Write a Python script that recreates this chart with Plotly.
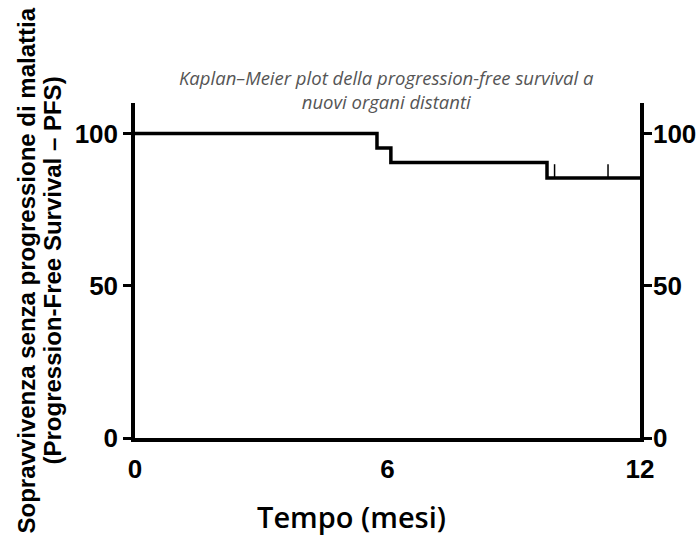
import plotly.graph_objects as go

# Data
step_times = [0, 5.75, 6.08, 9.79, 12]
survival = [100, 95.2, 90.5, 85.4, 85.4]
censor_times = [9.97, 11.24]
censor_level = 85.4
x_ticks = [0, 6, 12]
y_ticks = [0, 50, 100]

title_text = "Kaplan–Meier plot della progression-free survival a<br>nuovi organi distanti"
y_title_1 = "Sopravvivenza senza progressione di malattia"
y_title_2 = "(Progression-Free Survival – PFS)"
x_title = "Tempo (mesi)"

TICK_H = 4.5  # censor tick height (y units)
tick_font = dict(family="Liberation Sans, Arial", size=26, color="black", weight="bold")
title_font = dict(family="Open Sans", size=18.5, color="#555555", style="italic")

L, R, T, B = 135, 57, 103, 97
PW, PH = 697 - L - R, 535 - T - B


def px_x(p):
    return (p - L) / PW


def px_y(p):
    return (535 - B - p) / PH


fig = go.Figure()
fig.add_trace(go.Scatter(x=step_times, y=survival, mode="lines", line_shape="hv",
                         line=dict(color="black", width=3.5), showlegend=False, hoverinfo="skip"))
cx, cy = [], []
for t in censor_times:
    cx += [t, t, None]
    cy += [censor_level, censor_level + TICK_H, None]
fig.add_trace(go.Scatter(x=cx, y=cy, mode="lines", line=dict(color="black", width=1.5),
                         showlegend=False, hoverinfo="skip"))
fig.add_trace(go.Scatter(x=[0], y=[0], yaxis="y2", mode="markers", marker=dict(opacity=0),
                         showlegend=False, hoverinfo="skip"))

fig.update_layout(
    width=697, height=535,
    margin=dict(l=L, r=R, t=T, b=B, autoexpand=False),
    paper_bgcolor="white", plot_bgcolor="white",
    xaxis=dict(range=[0, 12], tickvals=x_ticks, ticks="", showgrid=False, zeroline=False,
               showline=True, linecolor="black", linewidth=3.5, tickfont=tick_font,
               automargin=False, ticklabelstandoff=5),
    yaxis=dict(range=[0, 110], tickvals=y_ticks, ticks="outside", ticklen=8, tickwidth=3,
               tickcolor="black", showgrid=False, zeroline=False, showline=True,
               linecolor="black", linewidth=3.5, tickfont=tick_font, automargin=False),
    yaxis2=dict(range=[0, 110], tickvals=y_ticks, ticks="outside", ticklen=8, tickwidth=3,
                tickcolor="black", showgrid=False, zeroline=False, showline=True,
                linecolor="black", linewidth=3.5, tickfont=tick_font, automargin=False,
                overlaying="y", side="right", anchor="x", ticklabelstandoff=-4),
    annotations=[
        dict(text=title_text, xref="paper", yref="paper", x=px_x(386), y=px_y(90),
             xanchor="center", yanchor="middle", showarrow=False, font=title_font),
        dict(text=y_title_1, xref="paper", yref="paper", x=px_x(26), y=0.5,
             xanchor="center", yanchor="middle", textangle=-90, showarrow=False,
             font=dict(family="Liberation Sans, Arial", size=24, color="black", weight="bold")),
        dict(text=y_title_2, xref="paper", yref="paper", x=px_x(52), y=0.5,
             xanchor="center", yanchor="middle", textangle=-90, showarrow=False,
             font=dict(family="Liberation Sans, Arial", size=24, color="black", weight="bold")),
        dict(text=x_title, xref="paper", yref="paper", x=px_x(351), y=px_y(516),
             xanchor="center", yanchor="middle", showarrow=False,
             font=dict(family="Open Sans", size=29, color="black", weight=600)),
    ],
)

fig.write_html("out.html")
